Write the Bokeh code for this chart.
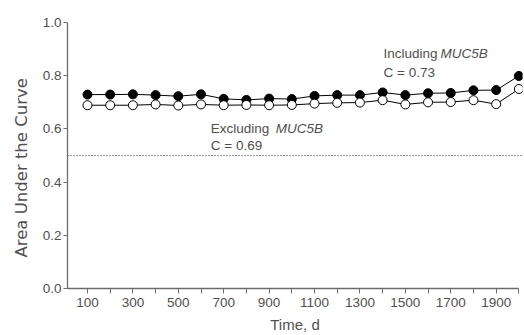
from bokeh.plotting import figure
from bokeh.models import Range1d, FixedTicker, Label, Span, Title
from bokeh.embed import file_html
from bokeh.resources import INLINE

days = [100, 200, 300, 400, 500, 600, 700, 800, 900, 1000,
        1100, 1200, 1300, 1400, 1500, 1600, 1700, 1800, 1900, 2000]
auc_including = [0.729, 0.729, 0.730, 0.727, 0.723, 0.730, 0.713, 0.709, 0.714, 0.712,
                 0.724, 0.727, 0.727, 0.737, 0.727, 0.734, 0.735, 0.745, 0.746, 0.799]
auc_excluding = [0.689, 0.689, 0.689, 0.692, 0.688, 0.692, 0.689, 0.690, 0.689, 0.690,
                 0.695, 0.698, 0.699, 0.708, 0.692, 0.700, 0.701, 0.708, 0.693, 0.750]
x_ticks = list(range(100, 2001, 100))
x_labels = {t: (str(t) if (t // 100) % 2 == 1 else "") for t in x_ticks}
y_ticks = [0.0, 0.2, 0.4, 0.6, 0.8, 1.0]
reference_auc = 0.5
c_including = "C = 0.73"
c_excluding = "C = 0.69"

FONT = "Liberation Sans"
TEXT = "#505050"
AXIS = "#6e6e6e"
X0, X1 = 12, 2016

p = figure(width=524, height=335, output_backend="svg", toolbar_location=None,
           x_range=Range1d(X0, X1), y_range=Range1d(0, 1.0),
           min_border_left=67, min_border_right=2, min_border_top=22, min_border_bottom=46)
p.outline_line_color = None
p.grid.grid_line_color = None
p.background_fill_color = "white"

p.xaxis.bounds = (X0, 2000)
p.yaxis.bounds = (0, 1.0)
p.xaxis.ticker = FixedTicker(ticks=x_ticks)
p.xaxis.major_label_overrides = {t: s for t, s in x_labels.items()}
p.yaxis.ticker = FixedTicker(ticks=y_ticks)
p.yaxis.major_label_overrides = {t: f"{t:.1f}" for t in y_ticks}
for ax in (p.xaxis, p.yaxis):
    ax.axis_line_color = AXIS
    ax.axis_line_width = 1.3
    ax.major_tick_line_color = AXIS
    ax.major_tick_in = 0
    ax.minor_tick_line_color = None
    ax.major_label_text_font = FONT
    ax.major_label_text_font_size = "13.5px"
    ax.major_label_text_color = TEXT
    ax.axis_label_text_font = FONT
    ax.axis_label_text_font_size = "15px"
    ax.axis_label_text_font_style = "normal"
    ax.axis_label_text_color = TEXT
p.xaxis.major_tick_out = 5
p.yaxis.major_tick_out = 4
p.xaxis.major_label_standoff = 4
p.yaxis.major_label_standoff = 2
p.xaxis.axis_label = "Time, d"
p.xaxis.axis_label_standoff = 6

# y-axis title as a left-side title, starting a little above the bottom of the frame
p.add_layout(Title(text="Area Under the Curve", align="left", offset=31,
                   text_font="DejaVu Sans", text_font_size="16.5px", text_color=TEXT,
                   text_font_style="normal", standoff=18), "left")

p.add_layout(Span(location=reference_auc, dimension="width", line_color="#333333",
                  line_width=1, line_dash="1 2"))

p.line(days, auc_including, line_color="black", line_width=1)
p.line(days, auc_excluding, line_color="black", line_width=1)
p.scatter(days, auc_including, size=9, marker="circle", fill_color="black", line_color="black")
p.scatter(days, auc_excluding, size=9, marker="circle", fill_color="white", line_color="black",
          line_width=1)

def add_text(x, y, text, style="normal", x_offset=0):
    p.add_layout(Label(x=x, y=y, text=text, x_offset=x_offset, text_font=FONT,
                       text_font_size="13.5px", text_font_style=style, text_color=TEXT,
                       text_baseline="alphabetic", text_align="left"))

add_text(1404, 0.883, "Including")
add_text(1404, 0.883, "MUC5B", style="italic", x_offset=57)
add_text(1404, 0.811, c_including)
add_text(643, 0.603, "Excluding")
add_text(643, 0.603, "MUC5B", style="italic", x_offset=65)
add_text(643, 0.536, c_excluding)

open("out.html", "w").write(file_html(p, INLINE))
